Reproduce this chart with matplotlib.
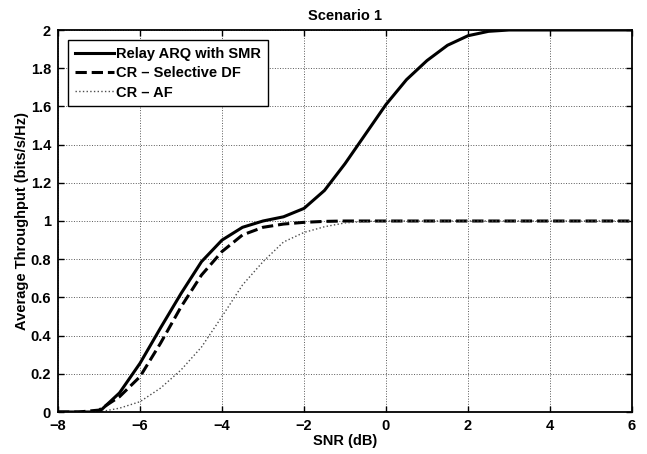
import numpy as np
import matplotlib.pyplot as plt

plt.rcParams['font.family'] = ['Liberation Sans', 'DejaVu Sans']
plt.rcParams['font.weight'] = 'bold'

# SNR points (dB)
snr = [-8, -7.5, -7, -6.5, -6, -5.5, -5, -4.5, -4, -3.5, -3, -2.5, -2, -1.5,
       -1, -0.5, 0, 0.5, 1, 1.5, 2, 2.5, 3, 3.5, 4, 4.5, 5, 5.5, 6]

# Relay ARQ with SMR
arq_smr = [0, 0, 0, 0.10, 0.255, 0.44, 0.62, 0.787, 0.90, 0.967, 1.0, 1.022,
           1.066, 1.16, 1.30, 1.455, 1.61, 1.74, 1.84, 1.92, 1.97, 1.993, 2.0,
           2.0, 2.0, 2.0, 2.0, 2.0, 2.0]

# CR - Selective DF
cr_sdf = [0, 0, 0.01, 0.08, 0.185, 0.36, 0.55, 0.717, 0.84, 0.927, 0.967,
          0.984, 0.993, 0.998, 1.0, 1.0, 1.0, 1.0, 1.0, 1.0, 1.0, 1.0, 1.0,
          1.0, 1.0, 1.0, 1.0, 1.0, 1.0]

# CR - AF
cr_af = [0, 0, 0, 0.02, 0.054, 0.125, 0.22, 0.34, 0.50, 0.665, 0.787, 0.89,
         0.94, 0.97, 0.99, 0.998, 1.0, 1.0, 1.0, 1.0, 1.0, 1.0, 1.0, 1.0, 1.0,
         1.0, 1.0, 1.0, 1.0]

xticklabels = ['\u22128', '\u22126', '\u22124', '\u22122', '0', '2', '4', '6']
yticklabels = ['0', '0.2', '0.4', '0.6', '0.8', '1', '1.2', '1.4', '1.6', '1.8', '2']

fs = 10.5

fig = plt.figure(figsize=(6.47, 4.54), dpi=100)
ax = fig.add_axes([58/647, 1 - 412/454, (632-58)/647, (412-30)/454])

ax.plot(snr, arq_smr, 'k-', lw=2.2, label='Relay ARQ with SMR')
ax.plot(snr, cr_sdf, 'k--', lw=2.2, label='CR \u2013 Selective DF')
ax.plot(snr, cr_af, color='0.3', ls=':', lw=1.0, label='CR \u2013 AF')

ax.set_xlim(-8, 6)
ax.set_ylim(0, 2)
ax.set_xticks(np.arange(-8, 7, 2))
ax.set_yticks(np.arange(0, 2.01, 0.2))
ax.set_xticklabels(xticklabels)
ax.set_yticklabels(yticklabels)
ax.grid(True, ls=':', color='0.35', lw=0.7)
ax.tick_params(direction='in', top=True, right=True, labelsize=fs, length=4, width=1)
ax.tick_params(axis='x', pad=5)
ax.tick_params(axis='y', pad=5)
for s in ax.spines.values():
    s.set_linewidth(1.3)

ax.set_xlabel('SNR (dB)', fontsize=fs, fontweight='bold', labelpad=1)
ax.set_ylabel('Average Throughput (bits/s/Hz)', fontsize=fs, fontweight='bold', labelpad=1)
ax.set_title('Scenario 1', fontsize=fs, fontweight='bold', pad=7)

leg = ax.legend(loc='upper left', fontsize=fs, frameon=True, fancybox=False,
                edgecolor='k', framealpha=1, handlelength=2.7, borderaxespad=0.7,
                borderpad=0.45, handletextpad=0.15, labelspacing=0.37)
leg.get_frame().set_linewidth(1.0)

fig.savefig('out.png', dpi=100)
